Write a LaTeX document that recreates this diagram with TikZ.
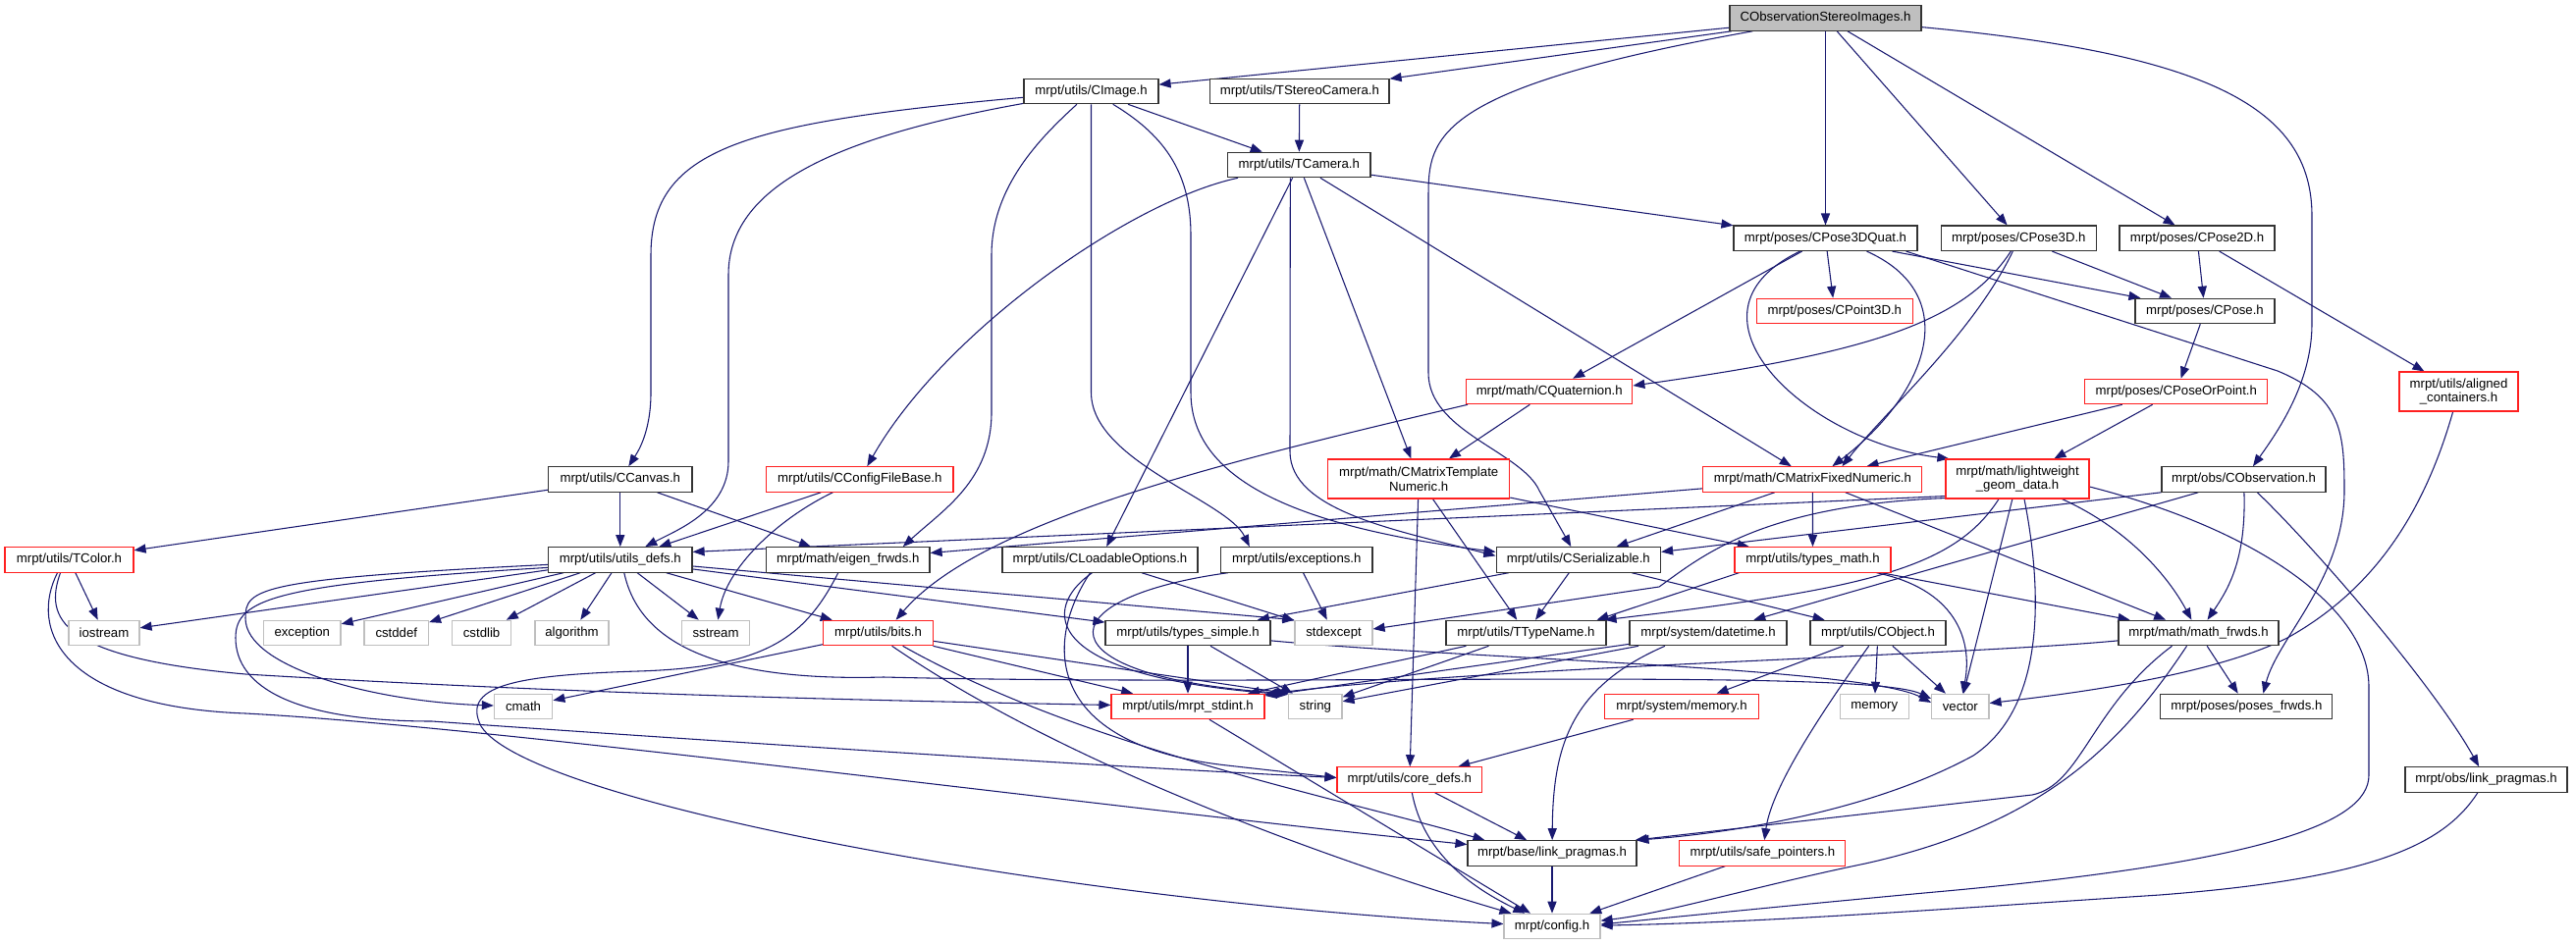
\documentclass[tikz,border=0pt]{standalone}
\usepackage{fontspec}
\setmainfont{Liberation Sans}
\usetikzlibrary{arrows.meta,calc}
\definecolor{navyc}{HTML}{191970}
\definecolor{greyc}{HTML}{BFBFBF}
\definecolor{redc}{HTML}{FF2020}
\pgfdeclarelayer{bg}
\pgfsetlayers{bg,main}
\tikzset{
 nd/.style={draw=black!80, line width=0.85pt, rectangle, inner sep=0pt, minimum height=19.1pt, fill=white, font=\fontsize{9.9}{11}\selectfont, text=black},
 rnd/.style={nd, draw=redc},
 gnd/.style={nd, draw=greyc},
 two/.style={align=center, minimum height=30pt},
 bw/.style={minimum width=#1*0.75pt},
 dep/.style={draw=navyc, line width=0.8pt, -{Triangle[length=9pt,width=6.8pt]}}
}
\begin{document}
\begin{tikzpicture}[x=0.75pt,y=-0.75pt]
\useasboundingbox (0,0) rectangle (2624,963);
% nodes
\node[nd,bw=195,fill=greyc] (cosi) at (1859.5,18.5) {CObservationStereoImages.h};
\node[nd,bw=137] (cimage) at (1111.5,93) {mrpt/utils/CImage.h};
\node[nd,bw=182.5] (tstereo) at (1323.8,93) {mrpt/utils/TStereoCamera.h};
\node[nd,bw=145.4] (tcamera) at (1323.3,168) {mrpt/utils/TCamera.h};
\node[nd,bw=187] (cpose3dquat) at (1859.5,242.8) {mrpt/poses/CPose3DQuat.h};
\node[nd,bw=158.5] (cpose3d) at (2056.3,242.8) {mrpt/poses/CPose3D.h};
\node[nd,bw=158] (cpose2d) at (2238,242.8) {mrpt/poses/CPose2D.h};
\node[rnd,bw=158.5] (cpoint3d) at (1868.8,317) {mrpt/poses/CPoint3D.h};
\node[nd,bw=142] (cpose) at (2246,317) {mrpt/poses/CPose.h};
\node[rnd,bw=169.2] (cquat) at (1578.2,399) {mrpt/math/CQuaternion.h};
\node[rnd,bw=186] (cposeorpoint) at (2216.8,399) {mrpt/poses/CPoseOrPoint.h};
\node[rnd,two,bw=121] (aligned) at (2504.5,399) {mrpt/utils/aligned\\\_containers.h};
\node[nd,bw=146.5] (ccanvas) at (631.8,488.5) {mrpt/utils/CCanvas.h};
\node[rnd,bw=190.5] (cconfig) at (875.8,488.5) {mrpt/utils/CConfigFileBase.h};
\node[rnd,two,bw=185] (cmtn) at (1445.2,488) {mrpt/math/CMatrixTemplate\\Numeric.h};
\node[rnd,bw=223] (cmfn) at (1846.4,488.5) {mrpt/math/CMatrixFixedNumeric.h};
\node[rnd,two,bw=146] (lightweight) at (2055,488) {mrpt/math/lightweight\\\_geom\_data.h};
\node[nd,bw=167] (cobservation) at (2285.5,488.5) {mrpt/obs/CObservation.h};
\node[rnd,bw=131] (tcolor) at (70.5,570.4) {mrpt/utils/TColor.h};
\node[nd,bw=146.5] (utilsdefs) at (631.8,570.4) {mrpt/utils/utils\_defs.h};
\node[nd,bw=166.5] (eigen) at (863.8,570.4) {mrpt/math/eigen\_frwds.h};
\node[nd,bw=199] (cloadable) at (1120.5,570.4) {mrpt/utils/CLoadableOptions.h};
\node[nd,bw=154.5] (exceptions) at (1320.8,570.4) {mrpt/utils/exceptions.h};
\node[nd,bw=167.5] (cserial) at (1607.8,570.4) {mrpt/utils/CSerializable.h};
\node[rnd,bw=159] (typesmath) at (1846.5,570.4) {mrpt/utils/types\_math.h};
\node[gnd,bw=72] (iostream) at (106,645) {iostream};
\node[gnd,bw=78.5] (exception) at (307.8,645) {exception};
\node[gnd,bw=65.5] (cstddef) at (403.8,645) {cstddef};
\node[gnd,bw=60.2] (cstdlib) at (490.6,645) {cstdlib};
\node[gnd,bw=75] (algorithm) at (582.5,645) {algorithm};
\node[gnd,bw=69] (sstream) at (729.1,645) {sstream};
\node[rnd,bw=112] (bits) at (894.6,645) {mrpt/utils/bits.h};
\node[nd,bw=168] (typessimple) at (1210,645) {mrpt/utils/types\_simple.h};
\node[gnd,bw=79] (stdexcept) at (1358.5,645) {stdexcept};
\node[nd,bw=163] (ttypename) at (1554.5,645) {mrpt/utils/TTypeName.h};
\node[nd,bw=160] (datetime) at (1740,645) {mrpt/system/datetime.h};
\node[nd,bw=138] (cobject) at (1913,645) {mrpt/utils/CObject.h};
\node[nd,bw=163] (mathfrwds) at (2239.5,645) {mrpt/math/math\_frwds.h};
\node[gnd,bw=59.4] (cmath) at (533.1,720) {cmath};
\node[rnd,bw=156] (mrptstdint) at (1210,720) {mrpt/utils/mrpt\_stdint.h};
\node[gnd,bw=54.4] (string) at (1339.8,720) {string};
\node[rnd,bw=157] (memoryh) at (1713.1,720) {mrpt/system/memory.h};
\node[gnd,bw=69.5] (memory) at (1909.3,720) {memory};
\node[gnd,bw=58.4] (vector) at (1996.8,720) {vector};
\node[nd,bw=175] (posesfrwds) at (2288.4,720) {mrpt/poses/poses\_frwds.h};
\node[rnd,bw=147.6] (coredefs) at (1435.8,794.5) {mrpt/utils/core\_defs.h};
\node[nd,bw=165] (obslink) at (2532.5,794.5) {mrpt/obs/link\_pragmas.h};
\node[nd,bw=172] (baselink) at (1581,869.4) {mrpt/base/link\_pragmas.h};
\node[rnd,bw=169] (safeptr) at (1795.4,869.4) {mrpt/utils/safe\_pointers.h};
\node[gnd,bw=98] (config) at (1581,944) {mrpt/config.h};

\begin{pgfonlayer}{bg}
\fill[white] (0,0) rectangle (2624,963);
% CObservationStereoImages.h
\draw[dep] (cosi) -- (cimage);
\draw[dep] (cosi) -- (tstereo);
\draw[dep] (cosi) .. controls (1460,90) and (1455,140) .. (1455,200) -- (1455,380) .. controls (1455,440) and (1550,460) .. (1568,500) -- (cserial);
\draw[dep] (cosi) -- (cpose3dquat);
\draw[dep] (cosi) -- (cpose3d);
\draw[dep] (cosi) -- (cpose2d);
\draw[dep] (cosi) .. controls (2250,55) and (2355,110) .. (2355,220) -- (2355,330) .. controls (2355,390) and (2320,440) .. (cobservation);
% CImage.h
\draw[dep] (cimage) .. controls (760,125) and (663,150) .. (663,260) -- (663,400) .. controls (663,440) and (650,460) .. (ccanvas);
\draw[dep] (cimage) .. controls (850,140) and (742,190) .. (742,280) -- (742,470) .. controls (742,520) and (690,540) .. (utilsdefs);
\draw[dep] (cimage) .. controls (1060,140) and (1010,190) .. (1010,260) -- (1010,420) .. controls (1010,490) and (960,520) .. ($(eigen.north)+(56,0)$);
\draw[dep] (cimage) -- (1111.5,400) .. controls (1111.5,470) and (1250,510) .. ($(exceptions.north)+(-48,0)$);
\draw[dep] (cimage) .. controls (1190,140) and (1213,180) .. (1213,240) -- (1213,400) .. controls (1213,500) and (1350,540) .. ($(cserial.west)+(0,-8)$);
\draw[dep] (cimage) -- (tcamera);
\draw[dep] (tstereo) -- (tcamera);
% TCamera.h
\draw[dep] (tcamera) -- (cpose3dquat);
\draw[dep] (tcamera) .. controls (1150,205) and (960,340) .. (cconfig);
\draw[dep] (tcamera) -- (cloadable);
\draw[dep] ($(tcamera.south)+(-9,0)$) -- (1314,460) .. controls (1314,520) and (1420,540) .. ($(cserial.west)+(0,-4)$);
\draw[dep] (tcamera) -- (cmtn);
\draw[dep] (tcamera) -- (cmfn);
% CCanvas / CConfigFileBase
\draw[dep] (ccanvas) -- (tcolor);
\draw[dep] (ccanvas) -- (utilsdefs);
\draw[dep] (ccanvas) -- (eigen);
\draw[dep] (cconfig) -- (utilsdefs);
\draw[dep] (cconfig) .. controls (790,530) and (740,580) .. (sstream);
% CPose3DQuat.h
\draw[dep] (cpose3dquat) -- (cquat);
\draw[dep] (cpose3dquat) -- (cpoint3d);
\draw[dep] ($(cpose3dquat.south)+(-26,0)$) .. controls (1700,320) and (1840,450) .. ($(lightweight.north west)+(4,0)$);
\draw[dep] ($(cpose3dquat.south)+(42,0)$) .. controls (2000,300) and (1965,400) .. ($(cmfn.north)+(20,0)$);
\draw[dep] ($(cpose3dquat.south)+(68,0)$) -- ($(cpose.north west)+(6,0)$);
\draw[dep] ($(cpose3dquat.south east)+(-12,0)$) -- (2320,378) .. controls (2385,405) and (2388,440) .. (2388,500) .. controls (2388,590) and (2320,650) .. ($(posesfrwds.north)+(17,0)$);
% CPose3D / CPose2D / CPose / CPoseOrPoint
\draw[dep] (cpose3d) -- (cpose);
\draw[dep] ($(cpose3d.south)+(-8,0)$) .. controls (2000,330) and (1900,360) .. ($(cquat.east)+(0,-6)$);
\draw[dep] ($(cpose3d.south)+(-6,0)$) .. controls (2010,340) and (1920,420) .. ($(cmfn.north)+(30,0)$);
\draw[dep] (cpose2d) -- (cpose);
\draw[dep] (cpose2d) -- (aligned);
\draw[dep] (cpose) -- (cposeorpoint);
\draw[dep] (cposeorpoint) -- (cmfn);
\draw[dep] (cposeorpoint) -- (lightweight);
\draw[dep] (aligned) .. controls (2470,520) and (2420,600) .. (2330,650) .. controls (2250,690) and (2100,708) .. (vector);
% CQuaternion / CMatrixTemplateNumeric / CMatrixFixedNumeric
\draw[dep] (cquat) -- (cmtn);
\draw[dep] ($(cquat.south west)+(2,0)$) .. controls (1250,470) and (1000,530) .. ($(bits.north)+(18,0)$);
\draw[dep] (cmtn) -- (coredefs);
\draw[dep] (cmtn) -- (ttypename);
\draw[dep] (cmtn) -- (typesmath);
\draw[dep] (cmfn) -- (cserial);
\draw[dep] (cmfn) -- (typesmath);
\draw[dep] (cmfn) -- (mathfrwds);
\draw[dep] (cmfn) -- (eigen);
% lightweight_geom_data.h
\draw[dep] ($(lightweight.south west)+(0,-3)$) -- ($(utilsdefs.east)+(0,-8)$);
\draw[dep] ($(lightweight.south west)+(0,-1)$) .. controls (1790,515) and (1730,570) .. (1690,598) -- ($(stdexcept.east)+(0,-4)$);
\draw[dep] ($(lightweight.south)+(-19,0)$) .. controls (1990,580) and (1900,600) .. ($(ttypename.north east)+(-2,0)$);
\draw[dep] (lightweight) -- (vector);
\draw[dep] ($(lightweight.south)+(7,0)$) .. controls (2080,600) and (2085,720) .. (2010,770) .. controls (1900,830) and (1750,850) .. (baselink.north east);
\draw[dep] (lightweight) .. controls (2170,540) and (2210,590) .. (mathfrwds);
\draw[dep] ($(lightweight.east)+(0,8)$) .. controls (2300,540) and (2413,620) .. (2413,700) -- (2413,790) .. controls (2413,840) and (2300,880) .. (1960,910) .. controls (1800,925) and (1700,935) .. ($(config.east)+(0,-2)$);
% CObservation.h
\draw[dep] (cobservation.south west) -- ($(cserial.east)+(0,-8)$);
\draw[dep] (cobservation) -- (datetime);
\draw[dep] (cobservation) .. controls (2288,570) and (2270,600) .. (mathfrwds);
\draw[dep] (cobservation) .. controls (2360,560) and (2480,700) .. (obslink);
% utils_defs.h
\draw[dep] (utilsdefs) -- (iostream);
\draw[dep] (utilsdefs) -- (exception);
\draw[dep] (utilsdefs) -- (cstddef);
\draw[dep] (utilsdefs) -- (cstdlib);
\draw[dep] (utilsdefs) -- (algorithm);
\draw[dep] (utilsdefs) -- (sstream);
\draw[dep] (utilsdefs) -- (bits);
\draw[dep] (utilsdefs) -- (typessimple);
\draw[dep] (utilsdefs) -- (stdexcept.north west);
\draw[dep] ($(utilsdefs.west)+(0,5)$) .. controls (260,590) and (250,600) .. (250,630) .. controls (250,680) and (380,715) .. (cmath);
\draw[dep] ($(utilsdefs.west)+(0,8)$) .. controls (280,595) and (240,610) .. (240,650) .. controls (240,700) and (300,735) .. (440,735) .. controls (650,750) and (1100,780) .. ($(coredefs.west)+(0,-2)$);
\draw[dep] ($(utilsdefs.south)+(4,0)$) .. controls (650,650) and (720,695) .. (900,690) .. controls (1300,700) and (1900,680) .. ($(vector.west)+(0,-8)$);
% bits.h
\draw[dep] (bits) -- (cmath);
\draw[dep] (bits) -- (mrptstdint);
\draw[dep] (bits) -- (string.north west);
\draw[dep] ($(bits.south)+(25,0)$) .. controls (1100,760) and (1350,810) .. ($(baselink.north west)+(18,0)$);
\draw[dep] ($(bits.south)+(14,0)$) .. controls (1100,790) and (1400,890) .. ($(config.north west)+(8,0)$);
% TColor.h
\draw[dep] (tcolor) -- (iostream);
\draw[dep] ($(tcolor.south)+(-9,0)$) .. controls (45,630) and (60,670) .. (250,687) .. controls (600,708) and (900,714) .. (mrptstdint);
\draw[dep] ($(tcolor.south)+(-12,0)$) .. controls (30,640) and (60,720) .. (250,727) .. controls (500,740) and (1100,820) .. (baselink);
% eigen_frwds.h
\draw[dep] ($(eigen.south)+(-10,0)$) .. controls (820,650) and (780,680) .. (650,684) .. controls (520,688) and (470,700) .. (490,740) .. controls (540,820) and (1100,920) .. (config);
% CLoadableOptions.h / exceptions.h
\draw[dep] ($(cloadable.south)+(-8,0)$) .. controls (1060,620) and (1060,690) .. ($(string.north west)+(0,1)$);
\draw[dep] ($(cloadable.south)+(-10,0)$) .. controls (1060,660) and (1070,760) .. (1250,780) -- ($(coredefs.west)+(0,-2)$);
\draw[dep] (cloadable) -- (stdexcept);
\draw[dep] (exceptions) -- (stdexcept);
\draw[dep] ($(exceptions.south west)+(8,0)$) .. controls (1060,610) and (1060,690) .. (string.north west);
% types_simple.h
\draw[dep] (typessimple) -- (mrptstdint);
\draw[dep] (typessimple) -- (string);
\draw[dep] (typessimple) .. controls (1500,672) and (1900,680) .. ($(vector.west)+(0,-4)$);
% TTypeName.h / datetime.h
\draw[dep] (ttypename) -- (mrptstdint);
\draw[dep] (ttypename) -- (string);
\draw[dep] (datetime) -- (mrptstdint);
\draw[dep] (datetime) -- (string);
\draw[dep] ($(datetime.south)+(-44,0)$) .. controls (1600,700) and (1582,760) .. (baselink);
% CSerializable.h
\draw[dep] (cserial) -- (ttypename);
\draw[dep] (cserial) -- (cobject);
\draw[dep] (cserial) -- (typessimple);
% types_math.h
\draw[dep] ($(typesmath.south west)+(5,0)$) -- ($(ttypename.north east)+(-10,0)$);
\draw[dep] ($(typesmath.south)+(65,0)$) .. controls (1990,600) and (2010,650) .. (vector);
\draw[dep] (typesmath) -- (mathfrwds);
% CObject.h
\draw[dep] (cobject) -- (memoryh);
\draw[dep] (cobject) .. controls (1860,720) and (1805,800) .. (safeptr);
\draw[dep] (cobject) -- (memory);
\draw[dep] (cobject) -- (vector);
% math_frwds.h
\draw[dep] (mathfrwds) -- (posesfrwds);
\draw[dep] (mathfrwds) .. controls (2000,668) and (1500,680) .. ($(mrptstdint.north east)+(0,1)$);
\draw[dep] ($(mathfrwds.south)+(-27,0)$) .. controls (2130,720) and (2120,800) .. (2070,810) -- ($(baselink.north east)+(-2,0)$);
\draw[dep] ($(mathfrwds.south)+(-12,0)$) .. controls (2160,760) and (2080,840) .. (1900,880) .. controls (1780,905) and (1700,930) .. (config);
% bottom part
\draw[dep] (obslink) .. controls (2490,860) and (2420,895) .. (2200,912) .. controls (2000,925) and (1800,940) .. (config);
\draw[dep] (mrptstdint) -- (config);
\draw[dep] (memoryh) -- (coredefs);
\draw[dep] (coredefs) -- (baselink);
\draw[dep] (coredefs) .. controls (1450,870) and (1500,905) .. (config);
\draw[dep] (baselink) -- (config);
\draw[dep] (safeptr) -- (config);
\end{pgfonlayer}
\end{tikzpicture}
\end{document}
